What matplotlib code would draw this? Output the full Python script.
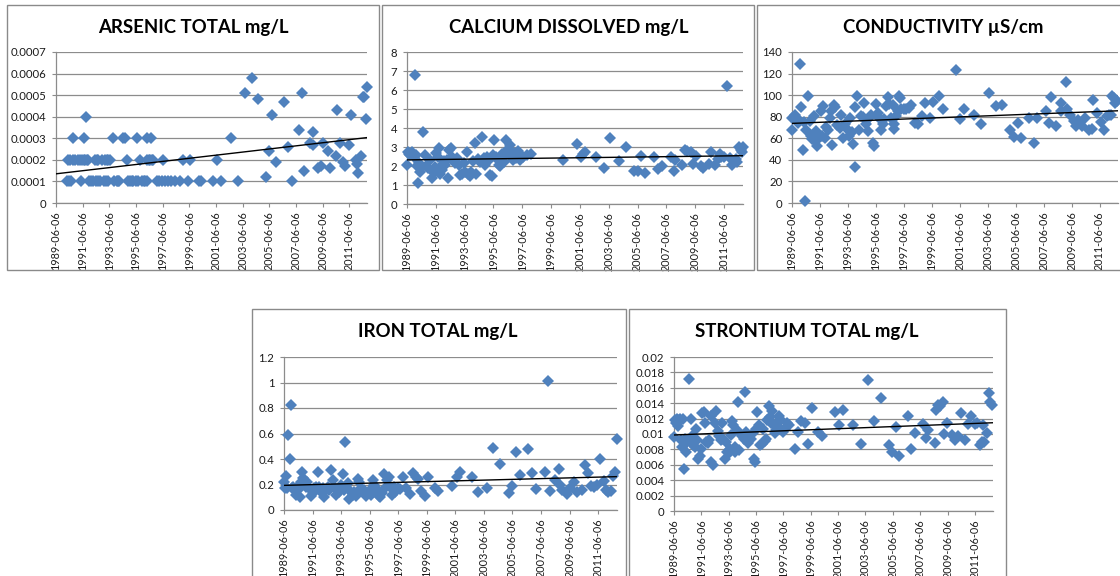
import numpy as np
import pandas as pd
import matplotlib
matplotlib.use("Agg")
import matplotlib.pyplot as plt
import matplotlib.dates as mdates
from matplotlib.patches import Rectangle
from matplotlib.ticker import FuncFormatter, FixedLocator

plt.rcParams['font.family'] = ['Lato', 'DejaVu Sans']

# ---------------- data ----------------
x_tick_labels = ["1989-06-06", "1991-06-06", "1993-06-06", "1995-06-06", "1997-06-06",
                 "1999-06-06", "2001-06-06", "2003-06-06", "2005-06-06", "2007-06-06",
                 "2009-06-06", "2011-06-06"]
x_start = "1989-06-06"
x_end = "2012-10-01"

titles = ["ARSENIC TOTAL mg/L", "CALCIUM DISSOLVED mg/L", "CONDUCTIVITY µS/cm",
          "IRON TOTAL mg/L", "STRONTIUM TOTAL mg/L"]

arsenic_years = [
    # 0.0001 level
    1990.23, 1990.40, 1990.55, 1991.31, 1991.93, 1992.05, 1992.18, 1992.43, 1992.60, 1992.73,
    1993.05, 1993.18, 1993.36, 1993.81, 1993.98, 1994.05, 1994.16, 1994.86, 1995.00, 1995.11,
    1995.23, 1995.45, 1995.61, 1995.86, 1996.06, 1996.10, 1996.23, 1996.98, 1997.18, 1997.35,
    1997.60, 1997.86, 1998.06, 1998.36, 1998.73, 1999.31, 2000.16, 2000.31, 2001.23, 2001.78,
    2003.11, 2007.11,
    # 0.0002 level
    1990.36, 1990.50, 1990.70, 1990.86, 1991.11, 1991.25, 1991.36, 1991.50, 1991.61, 1991.75,
    1991.86, 1992.36, 1992.50, 1992.61, 1992.86, 1993.10, 1993.23, 1993.35, 1993.48, 1994.73,
    1995.73, 1996.23, 1996.40, 1996.50, 1996.61, 1996.73, 1997.48, 1998.98, 1999.48, 2001.53,
    # 0.0003 level
    1990.73, 1991.56, 1993.73, 1994.48, 1994.61, 1995.48, 1996.28, 1996.56, 2002.53,
    # 0.0004
    1991.66,
    # later scattered
    2003.61, 2004.11, 2004.56, 2005.16, 2005.43, 2005.66, 2005.91, 2006.53, 2006.81, 2007.68,
    2007.91, 2008.03, 2008.48, 2008.68, 2008.73, 2009.11, 2009.31, 2009.43, 2009.86, 2009.98,
    2010.43, 2010.48, 2010.73, 2010.98, 2011.11, 2011.43, 2011.56, 2011.91, 2011.98, 2012.11,
    2012.31, 2012.43, 2012.53, 2012.68, 2012.73]
arsenic_values = (
    [0.0001] * 42 + [0.0002] * 30 + [0.0003] * 9 + [0.0004] +
    [0.00051, 0.00058, 0.00048, 0.00012, 0.00024, 0.00041, 0.00019, 0.00047, 0.00026, 0.00034,
     0.00051, 0.00015, 0.00028, 0.00033, 0.00027, 0.00016, 0.00017, 0.00028, 0.00024, 0.00016,
     0.00022, 0.00043, 0.00028, 0.00019, 0.00017, 0.00027, 0.00041, 0.00020, 0.00018, 0.00014,
     0.00022, 0.00049, 0.00049, 0.00039, 0.00054])

calcium_years = [
    1989.43, 1989.48, 1989.57, 1989.66, 1989.75, 1989.85, 1989.89, 1989.96, 1990.06, 1990.12,
    1990.17, 1990.24, 1990.31, 1990.40, 1990.54, 1990.66, 1990.75, 1990.87, 1991.05, 1991.17,
    1991.28, 1991.40, 1991.47, 1991.56, 1991.63, 1991.70, 1991.79, 1991.86, 1991.98, 1992.09,
    1992.21, 1992.28, 1992.37, 1992.49, 1992.56, 1992.67, 1992.79, 1992.90, 1993.02, 1993.13,
    1993.25, 1993.37, 1993.48, 1993.60, 1993.64, 1993.78, 1993.87, 1994.01, 1994.13, 1994.25,
    1994.34, 1994.52, 1994.66, 1994.75, 1994.87, 1994.99, 1995.10, 1995.22, 1995.33, 1995.40,
    1995.47, 1995.59, 1995.68, 1995.82, 1995.91, 1996.03, 1996.14, 1996.26, 1996.33, 1996.44,
    1996.56, 1996.68, 1996.79, 1996.88, 1997.00, 1997.12, 1997.19, 1997.25, 1997.35, 1997.49,
    1997.76, 1998.00, 2000.26, 2001.24, 2001.47, 2001.65, 2001.81, 2002.58, 2003.09, 2003.55,
    2004.13, 2004.61, 2005.17, 2005.45, 2005.70, 2005.98, 2006.56, 2006.84, 2007.14, 2007.76,
    2007.95, 2008.06, 2008.53, 2008.71, 2008.88, 2009.15, 2009.29, 2009.50, 2009.80, 2009.99,
    2010.38, 2010.56, 2010.80, 2011.00, 2011.14, 2011.24, 2011.42, 2011.65, 2011.82, 2012.00,
    2012.12, 2012.23, 2012.35, 2012.46, 2012.58, 2012.69, 2012.75]
calcium_values = [
    2.05, 2.75, 2.65, 2.6, 2.75, 2.6, 2.5, 6.8, 2.6, 2.0,
    1.1, 2.15, 1.7, 1.9, 3.8, 2.6, 2.0, 1.9, 2.3, 1.35,
    1.65, 1.95, 2.7, 2.5, 2.95, 1.6, 2.0, 1.8, 2.25, 2.05,
    2.3, 1.35, 2.85, 2.95, 2.5, 2.3, 2.15, 2.4, 2.05, 1.55,
    1.6, 2.15, 1.7, 2.75, 1.6, 1.5, 1.7, 2.25, 3.2, 1.6,
    2.35, 2.2, 3.55, 2.4, 2.05, 2.5, 2.3, 1.55, 1.5, 2.6,
    3.35, 2.5, 2.35, 2.05, 2.0, 2.65, 2.2, 2.6, 3.35, 2.9,
    3.1, 2.5, 2.3, 2.7, 2.4, 2.8, 2.6, 2.3, 2.5, 2.5,
    2.6, 2.65, 2.3, 3.15, 2.5, 2.65, 2.75, 2.45, 1.9, 3.5,
    2.25, 3.0, 1.75, 1.75, 2.55, 1.65, 2.45, 1.85, 2.0, 2.5,
    1.75, 2.3, 2.05, 2.85, 2.8, 2.75, 2.1, 2.55, 2.0, 1.9,
    2.1, 2.75, 2.05, 2.35, 2.65, 2.5, 2.5, 6.2, 2.4, 2.05,
    2.25, 2.35, 2.2, 3.0, 2.85, 2.75, 3.0]

conductivity_years = [
    1989.43, 1989.45, 1989.57, 1989.67, 1989.74, 1989.81, 1989.86, 1989.98, 1990.10, 1990.21,
    1990.29, 1990.33, 1990.45, 1990.57, 1990.69, 1990.76, 1990.86, 1991.00, 1991.09, 1991.17,
    1991.24, 1991.36, 1991.48, 1991.57, 1991.67, 1991.76, 1991.88, 1992.00, 1992.12, 1992.24,
    1992.31, 1992.43, 1992.52, 1992.66, 1992.83, 1992.95, 1993.07, 1993.19, 1993.31, 1993.47,
    1993.59, 1993.71, 1993.81, 1993.90, 1993.97, 1994.09, 1994.21, 1994.33, 1994.50, 1994.61,
    1994.73, 1994.85, 1994.97, 1995.09, 1995.23, 1995.28, 1995.45, 1995.56, 1995.68, 1995.80,
    1995.92, 1996.04, 1996.16, 1996.28, 1996.40, 1996.52, 1996.64, 1996.71, 1996.75, 1996.87,
    1996.99, 1997.06, 1997.13, 1997.23, 1997.42, 1997.59, 1997.78, 1997.94, 1998.23, 1998.42,
    1998.70, 1998.94, 1999.32, 1999.49, 1999.96, 2000.20, 2001.15, 2001.46, 2001.70, 2002.46,
    2002.98, 2003.53, 2004.01, 2004.48, 2005.03, 2005.32, 2005.60, 2005.79, 2006.38, 2006.74,
    2006.98, 2007.62, 2007.81, 2007.93, 2008.33, 2008.64, 2008.69, 2009.00, 2009.12, 2009.31,
    2009.60, 2009.72, 2009.88, 2010.19, 2010.38, 2010.67, 2010.90, 2010.97, 2011.26, 2011.50,
    2011.78, 2011.93, 2012.09, 2012.26, 2012.33, 2012.45, 2012.57, 2012.69]
conductivity_values = [
    68, 79, 80, 81.5, 77.5, 79, 74, 129, 89, 49,
    75, 1.5, 68, 99, 76, 62, 59, 80.5, 57.5, 67,
    53, 60.5, 85, 62, 90, 60.5, 70.5, 68, 79, 85,
    54, 90.5, 89, 72, 70, 82, 60, 73, 70, 62,
    79, 66, 54.5, 33, 89, 99, 68, 80.5, 80, 93,
    73, 67, 79, 82, 56, 53, 92, 83, 79, 68,
    73, 78, 90, 98, 91.5, 79, 90.5, 73, 69, 80.5,
    85, 99, 97.5, 87, 87, 87.5, 88, 90.5, 74, 73,
    80.5, 93, 79, 93.5, 99, 87.5, 123.5, 77.5, 87.5, 82,
    73.5, 102, 90, 91, 68, 61, 74, 60, 79, 56,
    78.5, 85, 74, 98, 71.5, 93, 85, 112, 87, 82,
    76, 71.5, 77, 71.5, 79, 68, 69, 95.5, 83.5, 75,
    68, 80.5, 82, 82, 99, 97.5, 93, 94.5]

iron_years = [
    1989.43, 1989.48, 1989.55, 1989.62, 1989.74, 1989.83, 1989.90, 1989.97, 1990.06, 1990.18,
    1990.30, 1990.42, 1990.49, 1990.56, 1990.65, 1990.72, 1990.79, 1990.89, 1990.96, 1991.07,
    1991.19, 1991.31, 1991.43, 1991.54, 1991.66, 1991.78, 1991.89, 1992.01, 1992.13, 1992.25,
    1992.36, 1992.48, 1992.60, 1992.72, 1992.83, 1992.95, 1993.07, 1993.19, 1993.30, 1993.44,
    1993.54, 1993.61, 1993.70, 1993.77, 1993.89, 1994.01, 1994.12, 1994.24, 1994.36, 1994.48,
    1994.59, 1994.71, 1994.83, 1994.95, 1995.06, 1995.18, 1995.30, 1995.42, 1995.53, 1995.65,
    1995.72, 1995.84, 1995.93, 1996.07, 1996.17, 1996.28, 1996.40, 1996.52, 1996.64, 1996.78,
    1996.87, 1996.99, 1997.11, 1997.22, 1997.41, 1997.53, 1997.76, 1998.00, 1998.28, 1998.47,
    1998.65, 1998.82, 1999.05, 1999.29, 1999.52, 1999.99, 2000.23, 2001.17, 2001.52, 2001.75,
    2002.57, 2003.04, 2003.63, 2004.10, 2004.57, 2005.16, 2005.39, 2005.67, 2005.93, 2006.52,
    2006.80, 2007.08, 2007.69, 2007.93, 2008.04, 2008.39, 2008.68, 2008.75, 2008.91, 2009.15,
    2009.26, 2009.45, 2009.73, 2009.97, 2010.32, 2010.51, 2010.72, 2010.95, 2011.14, 2011.38,
    2011.56, 2011.85, 2011.96, 2012.13, 2012.32, 2012.48, 2012.62, 2012.74]
iron_values = [
    0.22, 0.175, 0.27, 0.175, 0.59, 0.40, 0.825, 0.175, 0.18, 0.155,
    0.12, 0.16, 0.195, 0.105, 0.22, 0.295, 0.25, 0.22, 0.18, 0.22,
    0.175, 0.11, 0.13, 0.17, 0.18, 0.295, 0.18, 0.145, 0.175, 0.105,
    0.155, 0.18, 0.155, 0.31, 0.235, 0.18, 0.12, 0.155, 0.145, 0.195,
    0.28, 0.155, 0.535, 0.18, 0.21, 0.085, 0.145, 0.12, 0.145, 0.11,
    0.245, 0.22, 0.175, 0.145, 0.155, 0.11, 0.13, 0.155, 0.12, 0.235,
    0.195, 0.175, 0.145, 0.11, 0.105, 0.13, 0.28, 0.175, 0.235, 0.26,
    0.18, 0.12, 0.18, 0.145, 0.175, 0.165, 0.255, 0.17, 0.125, 0.29,
    0.26, 0.245, 0.15, 0.11, 0.255, 0.17, 0.15, 0.19, 0.255, 0.30,
    0.255, 0.145, 0.175, 0.485, 0.36, 0.135, 0.19, 0.455, 0.275, 0.48,
    0.29, 0.165, 0.30, 1.015, 0.15, 0.235, 0.32, 0.195, 0.155, 0.145,
    0.125, 0.175, 0.22, 0.14, 0.16, 0.355, 0.29, 0.19, 0.18, 0.195,
    0.40, 0.23, 0.16, 0.14, 0.15, 0.27, 0.30, 0.56]

strontium_years = [
    1989.43, 1989.48, 1989.55, 1989.62, 1989.72, 1989.79, 1989.87, 1989.94, 1990.04, 1990.09,
    1990.16, 1990.23, 1990.33, 1990.40, 1990.52, 1990.64, 1990.72, 1990.76, 1990.84, 1990.93,
    1991.01, 1991.10, 1991.20, 1991.30, 1991.42, 1991.49, 1991.61, 1991.69, 1991.78, 1991.91,
    1991.98, 1992.10, 1992.17, 1992.27, 1992.42, 1992.51, 1992.63, 1992.71, 1992.83, 1992.95,
    1993.02, 1993.14, 1993.24, 1993.31, 1993.43, 1993.51, 1993.58, 1993.68, 1993.75, 1993.87,
    1993.92, 1994.04, 1994.11, 1994.21, 1994.41, 1994.53, 1994.65, 1994.72, 1994.84, 1994.94,
    1995.06, 1995.18, 1995.28, 1995.33, 1995.42, 1995.50, 1995.62, 1995.74, 1995.86, 1995.96,
    1996.06, 1996.15, 1996.23, 1996.35, 1996.42, 1996.49, 1996.59, 1996.69, 1996.78, 1996.88,
    1996.95, 1997.08, 1997.15, 1997.27, 1997.37, 1997.51, 1997.68, 1997.85, 1998.29, 1998.46,
    1998.70, 1999.02, 1999.26, 1999.50, 1999.99, 2000.28, 2001.20, 2001.49, 2001.81, 2002.54,
    2003.09, 2003.58, 2004.07, 2004.55, 2005.13, 2005.33, 2005.64, 2005.89, 2006.54, 2006.78,
    2007.03, 2007.63, 2007.88, 2008.00, 2008.48, 2008.60, 2008.73, 2008.85, 2009.09, 2009.16,
    2009.38, 2009.77, 2009.94, 2010.18, 2010.42, 2010.71, 2010.91, 2011.15, 2011.40, 2011.59,
    2011.83, 2011.93, 2012.00, 2012.12, 2012.32, 2012.44, 2012.56, 2012.68]
strontium_values = [
    0.00965, 0.0118, 0.0114, 0.0120, 0.0110, 0.0118, 0.0120, 0.0092, 0.0083, 0.0120,
    0.0055, 0.0094, 0.0077, 0.0090, 0.0172, 0.0120, 0.0090, 0.0097, 0.0086, 0.0083,
    0.0106, 0.0092, 0.0068, 0.0072, 0.0081, 0.0127, 0.0128, 0.0114, 0.0090, 0.0088,
    0.0092, 0.0123, 0.0064, 0.0060, 0.0114, 0.0130, 0.0104, 0.0097, 0.0092, 0.0114,
    0.0094, 0.0068, 0.0089, 0.0077, 0.0075, 0.0081, 0.0099, 0.0117, 0.0112, 0.0077,
    0.0083, 0.0105, 0.0142, 0.0079, 0.0097, 0.0094, 0.0154, 0.0102, 0.0088, 0.0097,
    0.0094, 0.0101, 0.0068, 0.0064, 0.0107, 0.0129, 0.0112, 0.0086, 0.0087, 0.0107,
    0.0091, 0.0094, 0.0118, 0.0136, 0.0122, 0.0114, 0.0130, 0.0113, 0.0101, 0.0105,
    0.0114, 0.0123, 0.0120, 0.0107, 0.0103, 0.0107, 0.0114, 0.0112, 0.0080, 0.0102,
    0.0117, 0.0114, 0.0087, 0.0134, 0.0103, 0.0097, 0.0129, 0.0112, 0.0131, 0.0112,
    0.0087, 0.0170, 0.0117, 0.0147, 0.0086, 0.0076, 0.0109, 0.0071, 0.0123, 0.0081,
    0.0101, 0.0113, 0.0095, 0.0105, 0.0088, 0.0131, 0.0138, 0.0137, 0.0142, 0.0100,
    0.0114, 0.0099, 0.0092, 0.0097, 0.0127, 0.0092, 0.0113, 0.0123, 0.0113, 0.0114,
    0.0086, 0.0090, 0.0112, 0.0090, 0.0101, 0.0153, 0.0142, 0.0138]

y_ticks = [
    [0, 0.0001, 0.0002, 0.0003, 0.0004, 0.0005, 0.0006, 0.0007],
    [0, 1, 2, 3, 4, 5, 6, 7, 8],
    [0, 20, 40, 60, 80, 100, 120, 140],
    [0, 0.2, 0.4, 0.6, 0.8, 1.0, 1.2],
    [0, 0.002, 0.004, 0.006, 0.008, 0.01, 0.012, 0.014, 0.016, 0.018, 0.02],
]

series = [
    (arsenic_years, arsenic_values),
    (calcium_years, calcium_values),
    (conductivity_years, conductivity_values),
    (iron_years, iron_values),
    (strontium_years, strontium_values),
]

# ---------------- layout (pixels) ----------------
W, H = 1120, 576
# plot areas: left, right, top, bottom
plot_px = [(56, 367, 52, 203), (407, 743, 52, 204), (792, 1118, 52, 203),
           (284, 617, 357, 510), (674, 993, 357, 511)]
# chart boxes: x0, y0, x1, y1
box_px = [(7, 5, 379, 270), (382, 5, 754, 270), (757, 5, 1130, 270),
          (252, 309, 626, 582), (629, 309, 1006, 582)]
title_px = [(193, 27), (569, 27), (943, 27), (438, 332), (807, 332)]

MARKER = '#4F81BD'
GRID = '#8c8c8c'
TEXT = '#1c1c1c'


def dec_to_dt(y):
    yr = int(np.floor(y))
    s = pd.Timestamp(yr, 1, 1)
    e = pd.Timestamp(yr + 1, 1, 1)
    return s + (y - yr) * (e - s)


def fmt(v, pos):
    return f"{round(v, 6):g}"


fig = plt.figure(figsize=(W / 100, H / 100), dpi=100)
fig.patch.set_facecolor('white')

xs0 = mdates.date2num(pd.Timestamp(x_start))
xs1 = mdates.date2num(pd.Timestamp(x_end))
tick_nums = [mdates.date2num(pd.Timestamp(t)) for t in x_tick_labels]

for i in range(5):
    bx0, by0, bx1, by1 = box_px[i]
    fig.add_artist(Rectangle((bx0 / W, 1 - by1 / H), (bx1 - bx0) / W, (by1 - by0) / H,
                             transform=fig.transFigure, fill=False, ec='#8a8a8a', lw=1.0))
    l, r, t, b = plot_px[i]
    ax = fig.add_axes([l / W, 1 - b / H, (r - l) / W, (b - t) / H])
    yrs, vals = series[i]
    xd = np.array([mdates.date2num(dec_to_dt(y)) for y in yrs])
    vals = np.array(vals, dtype=float)
    ax.plot(xd, vals, linestyle='none', marker='D', markersize=5.8,
            color=MARKER, markeredgewidth=0, zorder=3, clip_on=False)
    k, c = np.polyfit(xd, vals, 1)
    xl = np.array([xs0, xs1])
    ax.plot(xl, k * xl + c, color='black', lw=1.0, zorder=4)

    yt = y_ticks[i]
    ax.set_ylim(yt[0], yt[-1])
    ax.set_xlim(xs0, xs1)
    ax.yaxis.set_major_locator(FixedLocator(yt))
    ax.yaxis.set_major_formatter(FuncFormatter(fmt))
    ax.xaxis.set_major_locator(FixedLocator(tick_nums))
    ax.set_xticklabels(x_tick_labels, rotation=90)
    ax.grid(axis='y', color=GRID, lw=0.9)
    ax.set_axisbelow(True)
    for s in ('top', 'right'):
        ax.spines[s].set_visible(False)
    for s in ('left', 'bottom'):
        ax.spines[s].set_color(GRID)
        ax.spines[s].set_linewidth(0.9)
    ax.tick_params(axis='y', length=3, width=0.8, color=GRID, pad=4, labelsize=8.2, labelcolor=TEXT)
    ax.tick_params(axis='x', length=3, width=0.8, color=GRID, pad=3, labelsize=7.8, labelcolor=TEXT)
    ax.patch.set_alpha(0)

    tx, ty = title_px[i]
    fig.text(tx / W, 1 - ty / H, titles[i], ha='center', va='center',
             fontsize=13.4, fontweight='bold', color='black')

fig.savefig('out.png', dpi=100, facecolor='white')
